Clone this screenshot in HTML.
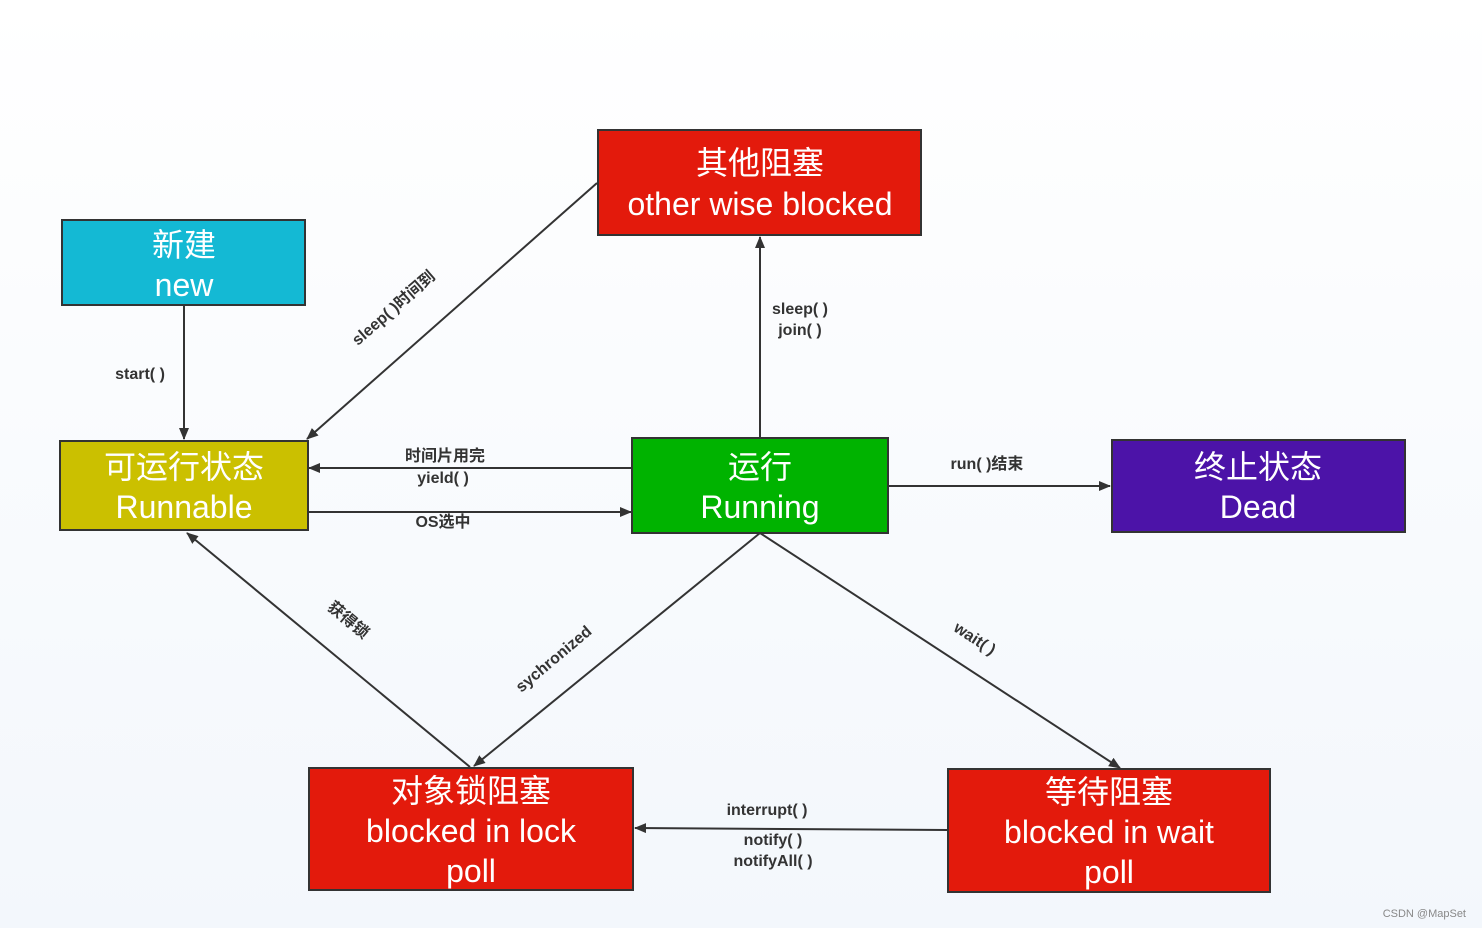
<!DOCTYPE html>
<html><head><meta charset="utf-8"><style>
body{margin:0;width:1482px;height:928px;background:#fff;overflow:hidden}
svg{display:block}
.b{font-family:"Liberation Sans","Noto Sans CJK SC",sans-serif;fill:#fff;font-size:32px;text-anchor:middle}
.l{font-family:"Liberation Sans","Noto Sans CJK SC",sans-serif;fill:#333;font-size:16px;font-weight:bold;text-anchor:middle}
</style></head><body>
<svg width="1482" height="928" xmlns="http://www.w3.org/2000/svg">
<defs>
<linearGradient id="bg" x1="0" y1="0" x2="0" y2="1"><stop offset="0" stop-color="#fff"/><stop offset="1" stop-color="#f3f7fc"/></linearGradient>
<marker id="a" markerWidth="12" markerHeight="10" refX="11" refY="5" orient="auto" markerUnits="userSpaceOnUse"><path d="M0,0 L12,5 L0,10 z" fill="#333"/></marker>
</defs>
<rect width="1482" height="928" fill="url(#bg)"/>
<g stroke="#333" stroke-width="2" fill="none" marker-end="url(#a)">
<line x1="184" y1="305" x2="184" y2="439"/>
<line x1="597" y1="183" x2="307" y2="439"/>
<line x1="760" y1="437" x2="760" y2="237"/>
<line x1="632" y1="468" x2="309" y2="468"/>
<line x1="309" y1="512" x2="631" y2="512"/>
<line x1="888" y1="486" x2="1110" y2="486"/>
<line x1="760" y1="533" x2="474" y2="766"/>
<line x1="760" y1="533" x2="1120" y2="768"/>
<line x1="470" y1="767" x2="187" y2="533"/>
<line x1="947" y1="830" x2="635" y2="828"/>
</g>
<g stroke="#333" stroke-width="2">
<rect x="62" y="220" width="243" height="85" fill="#14b9d4"/>
<rect x="598" y="130" width="323" height="105" fill="#e31a0c"/>
<rect x="60" y="441" width="248" height="89" fill="#cbc000"/>
<rect x="632" y="438" width="256" height="95" fill="#00b300"/>
<rect x="1112" y="440" width="293" height="92" fill="#4c13a8"/>
<rect x="309" y="768" width="324" height="122" fill="#e31a0c"/>
<rect x="948" y="769" width="322" height="123" fill="#e31a0c"/>
</g>
<text class="b" x="184" y="256">新建</text><text class="b" x="184" y="296">new</text>
<text class="b" x="760" y="174">其他阻塞</text><text class="b" x="760" y="215">other wise blocked</text>
<text class="b" x="184" y="478">可运行状态</text><text class="b" x="184" y="518">Runnable</text>
<text class="b" x="760" y="478">运行</text><text class="b" x="760" y="518">Running</text>
<text class="b" x="1258" y="478">终止状态</text><text class="b" x="1258" y="518">Dead</text>
<text class="b" x="471" y="802">对象锁阻塞</text><text class="b" x="471" y="842">blocked in lock</text><text class="b" x="471" y="882">poll</text>
<text class="b" x="1109" y="803">等待阻塞</text><text class="b" x="1109" y="843">blocked in wait</text><text class="b" x="1109" y="883">poll</text>
<text class="l" x="140" y="379">start( )</text>
<text class="l" x="800" y="314">sleep( )</text><text class="l" x="800" y="335">join( )</text>
<text class="l" x="445" y="461">时间片用完</text><text class="l" x="443" y="483">yield( )</text>
<text class="l" x="443" y="527">OS选中</text>
<text class="l" x="987" y="469">run( )结束</text>
<text class="l" x="767" y="815">interrupt( )</text><text class="l" x="773" y="845">notify( )</text><text class="l" x="773" y="866">notifyAll( )</text>
<text class="l" transform="translate(397,312) rotate(-41)">sleep( )时间到</text>
<text class="l" transform="translate(345,624) rotate(40)">获得锁</text>
<text class="l" transform="translate(557,663) rotate(-40)">sychronized</text>
<text class="l" transform="translate(972,643) rotate(33)">wait( )</text>
<text x="1466" y="917" font-family="Liberation Sans,sans-serif" font-size="11" fill="#888" text-anchor="end">CSDN @MapSet</text>
</svg>
</body></html>
